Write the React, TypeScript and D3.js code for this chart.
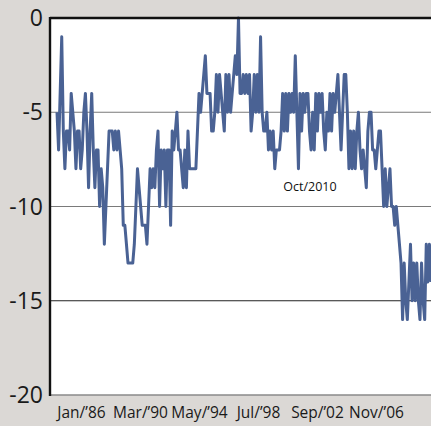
import * as d3 from 'd3';

// monthly readings (integer steps)
const VALUES: number[] = [
  // 1986 - 1989
  -5, -7, -4, -1, -6, -8, -6, -6, -7, -4, -5, -6, -8, -6, -6, -8, -7, -5, -4, -6, -9, -6, -4, -7, -9, -7, -7, -10, -8, -9, -12, -10, -8, -6, -6,
  // 1990 - 1993
  -6, -7, -6, -7, -6, -7, -8, -11, -11, -12, -13, -13, -13, -13, -12, -10, -8, -9, -10, -11, -11, -11, -12, -10, -8, -9, -8, -9, -7, -6, -10, -7, -8, -7, -10, -7, -7, -11, -6, -7,
  // 1994 - 1997
  -6, -5, -7, -7, -8, -9, -7, -9, -6, -8, -8, -8, -8, -8, -6, -4, -5, -4, -3, -2, -4, -4, -4, -6, -6, -5, -3, -5, -3, -4, -5, -6, -3, -5, -3, -5, -4, -3,
  // 1998 - 2001
  -2, -3, 0, -4, -4, -3, -4, -3, -4, -3, -6, -5, -3, -5, -3, -5, -1, -5, -6, -6, -5, -7, -6, -7, -6, -8, -7, -7, -7, -6, -4, -6, -4, -6, -4, -5, -4, -5,
  // 2002 - 2005
  -2, -5, -8, -4, -6, -4, -5, -4, -4, -6, -7, -5, -7, -4, -6, -4, -5, -4, -6, -7, -5, -6, -4, -6, -4, -5, -4, -3, -5, -7, -5, -3, -3, -5, -8, -6, -8, -6, -8, -6,
  // 2006 - 2010
  -5, -7, -8, -7, -8, -9, -6, -5, -5, -7, -7, -8, -7, -6, -6, -8, -10, -8, -10, -9, -8, -10, -10, -11, -10, -11, -12, -13, -16, -13, -15, -16, -14, -12, -15, -13, -15, -13, -15, -16, -13, -15, -16, -12, -14, -12, -14,
];

const X_LABELS = ['Jan/’86', 'Mar/’90', 'May/’94', 'Jul/’98', 'Sep/’02', 'Nov/’06'];
const Y_TICKS = [0, -5, -10, -15, -20];
const GRID_TICKS = [-5, -10, -15];
const NOTE = 'Oct/2010';

const W = 431;
const H = 426;
const M = { top: 18, right: 0, bottom: 31, left: 50 };

export default function App() {
  const x = d3.scaleLinear().domain([0, VALUES.length - 1]).range([57, W]);
  const y = d3.scaleLinear().domain([-20, 0]).range([H - M.bottom, M.top]);
  const xl = d3.scalePoint<string>().domain(X_LABELS).range([81.5, 376.5]);

  const line = d3
    .line<number>()
    .x((_, i) => x(i))
    .y((d) => y(d));

  const font = '"Open Sans", "DejaVu Sans", sans-serif';
  const bottom = y(-20);

  return (
    <div style={{ position: 'fixed', left: 0, top: 0, width: W, height: H }}>
      <svg width={W} height={H} style={{ display: 'block' }}>
        <rect x={0} y={0} width={W} height={H} fill="#dbd8d5" />
        <rect x={M.left} y={M.top} width={W - M.left} height={bottom - M.top} fill="#ffffff" />

        {GRID_TICKS.map((t) => (
          <line
            key={t}
            x1={M.left}
            x2={W}
            y1={y(t)}
            y2={y(t)}
            stroke={t === -15 ? '#222' : '#7a7a7a'}
            strokeWidth={1.2}
          />
        ))}

        <path d={line(VALUES) ?? ''} fill="none" stroke="#4a6294" strokeWidth={3} strokeLinejoin="round" />

        {/* frame */}
        <line x1={M.left} x2={W} y1={M.top} y2={M.top} stroke="#111" strokeWidth={2.4} />
        <line x1={M.left} x2={W} y1={bottom} y2={bottom} stroke="#8a8a8a" strokeWidth={1.5} />
        <line x1={M.left} x2={M.left} y1={M.top - 1} y2={bottom + 1} stroke="#111" strokeWidth={2.4} />

        {Y_TICKS.map((t) => (
          <text
            key={t}
            x={43}
            y={y(t)}
            dy="0.35em"
            textAnchor="end"
            fontFamily={font}
            fontSize={23}
            fill="#1a1a1a"
          >
            {t === 0 ? '0' : `-${Math.abs(t)}`}
          </text>
        ))}

        {X_LABELS.map((l) => (
          <text
            key={l}
            x={xl(l)}
            y={418}
            textAnchor="middle"
            fontFamily={font}
            fontSize={15.5}
            fill="#1a1a1a"
          >
            {l}
          </text>
        ))}

        <text x={310} y={y(-9.2)} textAnchor="middle" fontFamily={font} fontSize={12.5} fill="#111">
          {NOTE}
        </text>
      </svg>
    </div>
  );
}
